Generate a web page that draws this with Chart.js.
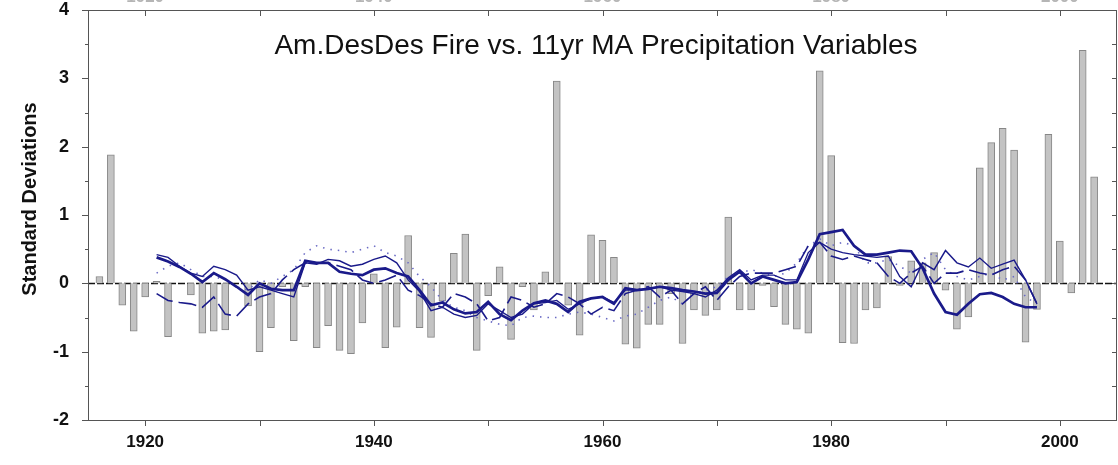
<!DOCTYPE html>
<html><head><meta charset="utf-8">
<script src="https://cdn.jsdelivr.net/npm/chart.js@4.4.0/dist/chart.umd.min.js"></script>
<style>html,body{margin:0;padding:0;background:#fff;overflow:hidden}canvas{display:block}</style>
</head><body>
<canvas id="c" width="1118" height="465"></canvas>
<script>
const chartTitle = 'Am.DesDes Fire vs. 11yr MA Precipitation Variables';
const yAxisTitle = 'Standard Deviations';

const years = [1916,1917,1918,1919,1920,1921,1922,1923,1924,1925,1926,1927,1928,1929,1930,
  1931,1932,1933,1934,1935,1936,1937,1938,1939,1940,1941,1942,1943,1944,1945,1946,1947,1948,1949,1950,
  1951,1952,1953,1954,1955,1956,1957,1958,1959,1960,1961,1962,1963,1964,1965,1966,1967,1968,1969,1970,
  1971,1972,1973,1974,1975,1976,1977,1978,1979,1980,1981,1982,1983,1984,1985,1986,1987,1988,1989,1990,
  1991,1992,1993,1994,1995,1996,1997,1998,1999,2000,2001,2002,2003];
const fireValues = [0.10,1.88,-0.32,-0.70,-0.20,0.03,-0.78,0.00,-0.17,-0.73,-0.70,-0.68,0.00,-0.33,-1.00,
  -0.65,-0.05,-0.84,-0.05,-0.94,-0.62,-0.98,-1.03,-0.58,0.14,-0.94,-0.64,0.70,-0.65,-0.79,-0.26,0.44,0.72,-0.98,-0.18,
  0.24,-0.82,-0.05,-0.39,0.17,2.96,-0.32,-0.76,0.71,0.63,0.38,-0.89,-0.95,-0.60,-0.60,-0.15,-0.88,-0.39,-0.47,-0.39,
  0.97,-0.39,-0.39,-0.03,-0.34,-0.60,-0.67,-0.73,3.11,1.87,-0.87,-0.88,-0.39,-0.36,0.39,-0.03,0.33,0.30,0.45,-0.10,
  -0.67,-0.49,1.69,2.06,2.27,1.95,-0.86,-0.38,2.18,0.62,-0.14,3.41,1.56];

const maYears = [1921,1922,1923,1924,1925,1926,1927,1928,1929,1930,1931,1932,1933,1934,1935,1936,1937,1938,1939,1940,
  1941,1942,1943,1944,1945,1946,1947,1948,1949,1950,1951,1952,1953,1954,1955,1956,1957,1958,1959,1960,
  1961,1962,1963,1964,1965,1966,1967,1968,1969,1970,1971,1972,1973,1974,1975,1976,1977,1978,1979,1980,
  1981,1982,1983,1984,1985,1986,1987,1988,1989,1990,1991,1992,1993,1994,1995,1996,1997,1998];
const maThick = [0.38,0.32,0.24,0.14,0.02,0.15,0.06,-0.05,-0.17,0.00,-0.08,-0.10,-0.10,0.33,0.30,0.30,0.17,0.14,0.12,0.20,
  0.22,0.15,0.10,-0.10,-0.32,-0.28,-0.38,-0.44,-0.42,-0.27,-0.45,-0.54,-0.40,-0.29,-0.25,-0.30,-0.42,-0.27,-0.22,-0.20,
  -0.30,-0.07,-0.10,-0.08,-0.05,-0.07,-0.10,-0.12,-0.15,-0.14,0.05,0.17,0.00,0.10,0.05,0.00,0.02,0.35,0.72,0.75,
  0.78,0.55,0.42,0.42,0.45,0.48,0.47,0.22,-0.15,-0.42,-0.46,-0.30,-0.16,-0.14,-0.20,-0.30,-0.35,-0.35];
const maThin = [0.42,0.38,0.25,0.15,0.10,0.25,0.20,0.12,-0.10,-0.05,-0.10,-0.15,-0.20,0.30,0.28,0.35,0.33,0.25,0.28,0.35,
  0.40,0.30,0.05,-0.12,-0.40,-0.35,-0.45,-0.50,-0.47,-0.30,-0.40,-0.50,-0.45,-0.30,-0.28,-0.25,-0.38,-0.30,-0.22,-0.20,
  -0.28,-0.10,-0.10,-0.08,-0.05,-0.10,-0.12,-0.15,-0.20,-0.10,0.08,0.20,0.05,0.12,0.12,0.05,0.05,0.45,0.60,0.50,
  0.45,0.42,0.40,0.38,0.40,0.10,-0.05,0.30,0.20,0.48,0.30,0.24,0.37,0.22,0.28,0.34,0.05,-0.30];
const maDashed = [-0.15,-0.25,-0.28,-0.30,-0.35,-0.20,-0.45,-0.48,-0.30,-0.20,-0.15,0.05,0.20,0.30,0.30,0.30,0.25,0.20,0.05,0.00,
  0.05,0.12,-0.10,-0.18,-0.30,-0.35,-0.15,-0.20,-0.30,-0.55,-0.50,-0.20,-0.25,-0.35,-0.30,-0.15,-0.20,-0.30,-0.45,-0.35,
  -0.40,-0.15,-0.10,-0.05,-0.20,-0.10,-0.30,-0.15,-0.05,-0.25,-0.05,0.10,0.15,0.15,0.15,0.20,0.25,0.55,0.60,0.40,
  0.35,0.40,0.35,0.30,0.10,0.00,0.15,0.25,0.00,0.15,0.15,0.20,0.15,0.12,0.20,0.25,0.05,-0.30];
const maDotted = [0.15,0.25,0.30,0.20,0.10,0.10,0.05,-0.05,-0.10,0.05,0.00,0.10,0.20,0.45,0.55,0.50,0.48,0.45,0.50,0.55,
  0.45,0.40,0.30,0.10,-0.05,-0.25,-0.35,-0.40,-0.50,-0.55,-0.60,-0.62,-0.50,-0.48,-0.50,-0.50,-0.45,-0.42,-0.45,-0.50,
  -0.55,-0.48,-0.45,-0.35,-0.25,-0.20,-0.30,-0.15,-0.10,-0.05,0.10,0.15,0.20,0.15,0.10,0.15,0.30,0.55,0.65,0.55,
  0.60,0.55,0.30,0.30,0.35,0.25,0.15,0.35,0.45,0.20,0.10,0.05,0.10,0.15,0.05,0.10,-0.20,-0.30];

const xTickLabels = [1920,1940,1960,1980,2000];
const xMinorTicks = [1920,1930,1940,1950,1960,1970,1980,1990,2000];
const yTickLabels = [-2,-1,0,1,2,3,4];
const yMinorTicks = [-2,-1.5,-1,-0.5,0,0.5,1,1.5,2,2.5,3,3.5,4];

const toXY = (xs, ys) => xs.map((x, i) => ({x: x, y: ys[i]}));
const NAVY = '#1a1a8a';
const FONT = '"Liberation Sans", Arial, sans-serif';

const frame = {
  id: 'frame',
  beforeDatasetsDraw(chart) {
    const {ctx, chartArea: a, scales: {y}} = chart;
    ctx.save();
    ctx.strokeStyle = '#111';
    ctx.lineWidth = 1.3;
    ctx.setLineDash([7, 2]);
    const y0 = Math.round(y.getPixelForValue(0)) + 0.5;
    ctx.beginPath(); ctx.moveTo(a.left, y0); ctx.lineTo(a.right, y0); ctx.stroke();
    ctx.restore();
  },
  afterDraw(chart) {
    const {ctx, chartArea: a, scales: {x, y}} = chart;
    ctx.save();
    ctx.strokeStyle = '#555';
    ctx.lineWidth = 1;
    ctx.strokeRect(a.left + 0.5, a.top + 0.5, a.right - a.left - 1, a.bottom - a.top);
    ctx.beginPath();
    yMinorTicks.forEach(v => {
      const py = Math.round(y.getPixelForValue(v)) + 0.5;
      const major = Number.isInteger(v);
      ctx.moveTo(a.left, py); ctx.lineTo(a.left - (major ? 6 : 3), py);
      ctx.moveTo(a.right, py); ctx.lineTo(a.right - 5, py);
    });
    xMinorTicks.forEach(v => {
      const px = Math.round(x.getPixelForValue(v)) + 0.5;
      ctx.moveTo(px, a.bottom); ctx.lineTo(px, a.bottom + 6);
      ctx.moveTo(px, a.top); ctx.lineTo(px, a.top + 6);
    });
    ctx.stroke();
    // clipped top-axis labels
    ctx.fillStyle = '#b5b5b5';
    ctx.font = 'bold 17px ' + FONT;
    ctx.textAlign = 'center';
    ctx.textBaseline = 'alphabetic';
    xTickLabels.forEach(v => ctx.fillText(String(v), x.getPixelForValue(v), 1.5));
    // title inside plot
    ctx.fillStyle = '#111';
    ctx.font = '28px ' + FONT;
    ctx.textBaseline = 'middle';
    ctx.fillText(chartTitle, 596, 46);
    // y-axis title
    ctx.font = 'bold 20px ' + FONT;
    ctx.translate(30, 199);
    ctx.rotate(-Math.PI / 2);
    ctx.fillText(yAxisTitle, 0, 0);
    ctx.restore();
  }
};

new Chart(document.getElementById('c'), {
  type: 'bar',
  data: {
    datasets: [
      {type: 'line', label: 'MA 1', data: toXY(maYears, maThick), borderColor: NAVY, borderWidth: 2.7, pointRadius: 0, tension: 0, order: 1},
      {type: 'line', label: 'MA 2', data: toXY(maYears, maThin), borderColor: NAVY, borderWidth: 1.4, pointRadius: 0, tension: 0, order: 2},
      {type: 'line', label: 'MA 3', data: toXY(maYears, maDashed), borderColor: NAVY, borderWidth: 1.6, borderDash: [18, 6], pointRadius: 0, tension: 0, order: 3},
      {type: 'line', label: 'MA 4', data: toXY(maYears, maDotted), borderColor: '#6a6ac4', borderWidth: 1.6, borderDash: [1.5, 6], pointRadius: 0, tension: 0, order: 4},
      {type: 'bar', label: 'Fire', data: toXY(years, fireValues), backgroundColor: '#c3c3c3', borderColor: '#878787', borderWidth: 1, barThickness: 7, order: 10}
    ]
  },
  options: {
    responsive: false,
    animation: false,
    events: [],
    layout: {padding: {top: 10, right: 1, left: 0, bottom: 0}},
    plugins: {legend: {display: false}, tooltip: {enabled: false}, title: {display: false}},
    scales: {
      x: {
        type: 'linear', min: 1915, max: 2005, offset: false,
        afterBuildTicks: s => { s.ticks = xTickLabels.map(v => ({value: v})); },
        afterFit: s => { s.height = 45; s.paddingLeft = 0; s.paddingRight = 0; },
        grid: {display: false}, border: {display: false},
        ticks: {padding: 4, color: '#111', font: {family: FONT, size: 17, weight: 'bold'}, maxRotation: 0, callback: v => String(v)}
      },
      y: {
        type: 'linear', min: -2, max: 4,
        afterBuildTicks: s => { s.ticks = yTickLabels.map(v => ({value: v})); },
        afterFit: s => { s.width = 88; s.paddingTop = 0; s.paddingBottom = 0; },
        grid: {display: false}, border: {display: false},
        ticks: {padding: 11, color: '#111', font: {family: FONT, size: 18, weight: 'bold'}},
        title: {display: false}
      }
    }
  },
  plugins: [frame]
});
</script>
</body></html>
